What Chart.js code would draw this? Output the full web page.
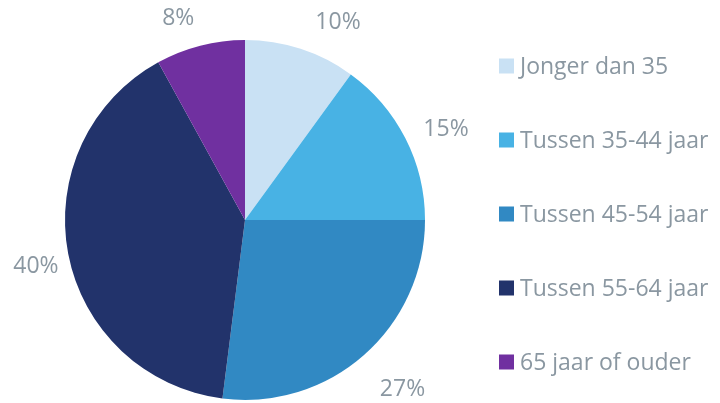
<!DOCTYPE html>
<html lang="nl">
<head>
    <meta charset="UTF-8">
    <title>Leeftijdsverdeling</title>
    <script src="https://cdn.jsdelivr.net/npm/chart.js"></script>
    <style>
        html, body { margin: 0; padding: 0; background: #fff; }
        #wrap { width: 720px; height: 403px; position: relative; }
    </style>
</head>
<body>
    <div id="wrap"><canvas id="pieChart"></canvas></div>

    <script>
        const categories = ['Jonger dan 35', 'Tussen 35-44 jaar', 'Tussen 45-54 jaar', 'Tussen 55-64 jaar', '65 jaar of ouder'];
        const shares = [10, 15, 27, 40, 8];
        const sliceColors = ['#c9e1f4', '#48b2e4', '#3189c3', '#22336b', '#7030a0'];

        const textColor = '#8a97a1';
        const fontFamily = '"Open Sans", sans-serif';

        // percentage labels just outside each slice (Excel "outside end" look)
        const labelNudge = [[25, 12], [5, 9], [12, 4], [7, 5], [-12, 12]];
        const outsideLabels = {
            id: 'outsideLabels',
            afterDatasetsDraw(chart) {
                const ctx = chart.ctx;
                const meta = chart.getDatasetMeta(0);
                ctx.save();
                ctx.font = '23px ' + fontFamily;
                ctx.fillStyle = textColor;
                ctx.textAlign = 'center';
                ctx.textBaseline = 'middle';
                meta.data.forEach((arc, i) => {
                    const p = arc.getProps(['x', 'y', 'startAngle', 'endAngle', 'outerRadius'], true);
                    const mid = (p.startAngle + p.endAngle) / 2;
                    const d = p.outerRadius + 40;
                    const x = p.x + Math.cos(mid) * d + labelNudge[i][0];
                    const y = p.y + Math.sin(mid) * d + labelNudge[i][1];
                    ctx.fillText(shares[i] + '%', x, y);
                });
                ctx.restore();
            }
        };

        // legend drawn by hand so box/text spacing matches the original
        const sideLegend = {
            id: 'sideLegend',
            afterDraw(chart) {
                const ctx = chart.ctx;
                const left = chart.chartArea.right + 74;
                const top = 66;
                const step = 74;
                ctx.save();
                ctx.font = '23px ' + fontFamily;
                ctx.textBaseline = 'middle';
                categories.forEach((label, i) => {
                    const cy = top + i * step;
                    ctx.fillStyle = sliceColors[i];
                    ctx.fillRect(left, cy - 7.5, 15, 15);
                    ctx.fillStyle = textColor;
                    ctx.fillText(label, left + 21, cy + 1);
                });
                ctx.restore();
            }
        };

        new Chart(document.getElementById('pieChart'), {
            type: 'pie',
            data: {
                labels: categories,
                datasets: [{
                    data: shares,
                    backgroundColor: sliceColors,
                    borderWidth: 0
                }]
            },
            options: {
                responsive: true,
                maintainAspectRatio: false,
                animation: false,
                layout: { padding: { left: 65, top: 40, right: 295, bottom: 3 } },
                plugins: {
                    legend: { display: false },
                    tooltip: { enabled: false }
                }
            },
            plugins: [outsideLabels, sideLegend]
        });
    </script>
</body>
</html>
